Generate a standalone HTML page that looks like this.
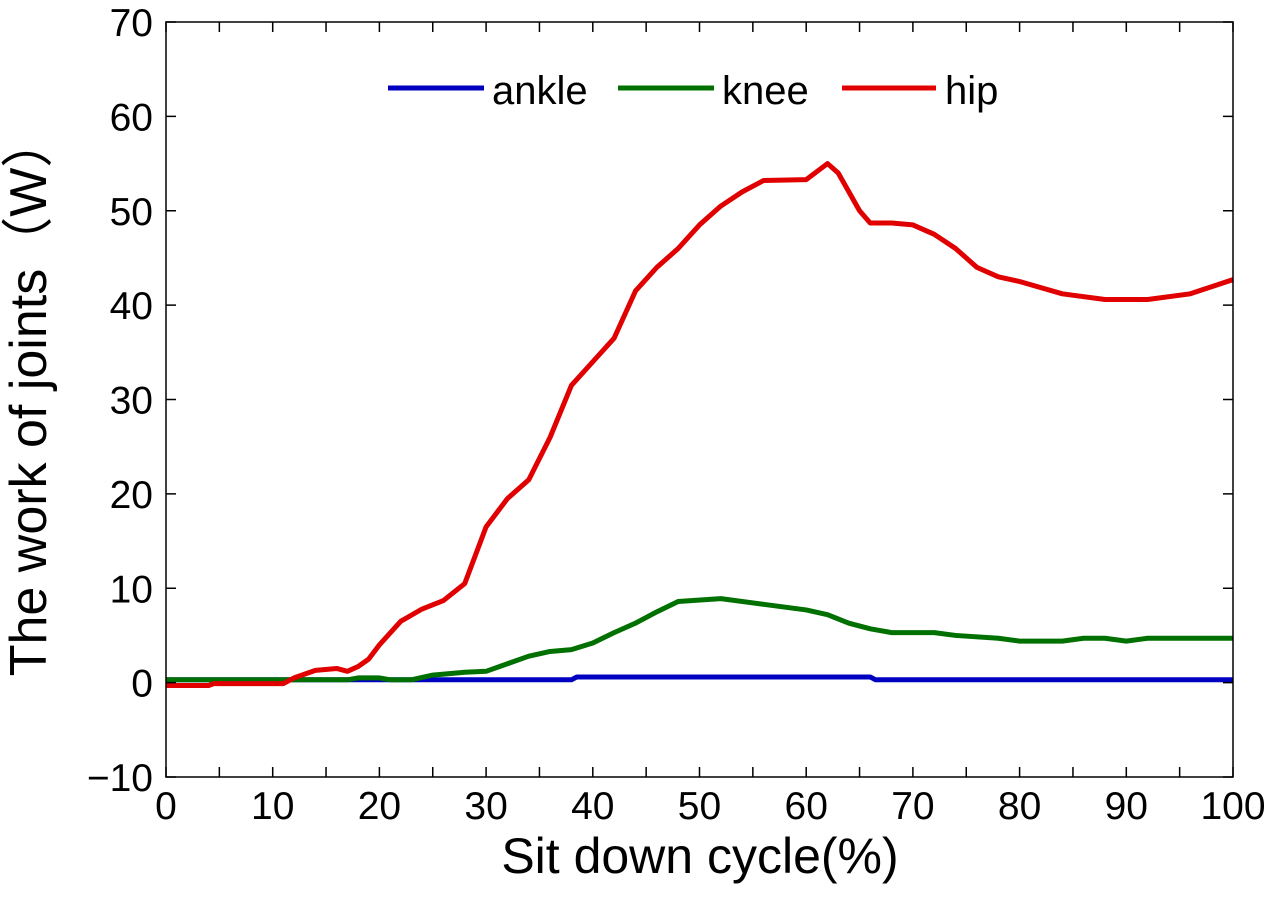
<!DOCTYPE html>
<html><head><meta charset="utf-8"><style>
body{margin:0;background:#fff;}
svg{display:block;font-family:"Liberation Sans","Noto Sans CJK SC",sans-serif;}
</style></head><body>
<svg id="chart" width="1275" height="914">
<rect x="0" y="0" width="1275" height="914" fill="#fff"/>
<g id="series"></g>
<rect x="166" y="22" width="1067" height="755" fill="none" stroke="#000" stroke-width="1.5"/>
<g id="axes"></g>
<text x="700" y="873" font-size="50" text-anchor="middle">Sit down cycle(%)</text>
<text transform="translate(46,396) rotate(-90)" font-size="52" text-anchor="middle">The work of joints（W）</text>
<g>
<g><line x1="388" y1="88" x2="484" y2="88" stroke="#0000c0" stroke-width="5"/><text x="492" y="104" font-size="40">ankle</text></g>
<g><line x1="618" y1="88" x2="714" y2="88" stroke="#007000" stroke-width="5"/><text x="722" y="104" font-size="40">knee</text></g>
<g><line x1="842" y1="88" x2="936" y2="88" stroke="#e00000" stroke-width="5"/><text x="945" y="104" font-size="40">hip</text></g>
</g>
</svg>
<script>
const hipX=[0,4,4.5,11,12,14,16,17,18,19,20,22,24,26,28,30,32,34,36,38,40,42,44,46,48,50,52,54,56,60,62,63,65,66,68,70,72,74,76,78,80,84,88,92,96,100];
const hipY=[-0.3,-0.3,-0.1,-0.1,0.5,1.3,1.5,1.2,1.7,2.5,4,6.5,7.8,8.7,10.5,16.5,19.5,21.5,26,31.5,34,36.5,41.5,44,46,48.5,50.5,52,53.2,53.3,55,54,50,48.7,48.7,48.5,47.5,46,44,43,42.5,41.2,40.6,40.6,41.2,42.7];
const kneeX=[0,17,18,20,21,23,25,28,30,32,34,36,38,40,42,44,46,48,52,56,60,62,64,66,68,72,74,78,80,84,86,88,90,92,100];
const kneeY=[0.3,0.3,0.5,0.5,0.3,0.3,0.8,1.1,1.2,2,2.8,3.3,3.5,4.2,5.3,6.3,7.5,8.6,8.9,8.3,7.7,7.2,6.3,5.7,5.3,5.3,5.0,4.7,4.4,4.4,4.7,4.7,4.4,4.7,4.7];
const ankleX=[0,38,38.5,66,66.5,100];
const ankleY=[0.3,0.3,0.6,0.6,0.3,0.3];
const xTicks=[0,10,20,30,40,50,60,70,80,90,100];
const yTicks=[-10,0,10,20,30,40,50,60,70];
const NS='http://www.w3.org/2000/svg';
const X=v=>166+(v-0)/100*1067;
const Y=v=>777-(v+10)/80*755;
const axes=document.getElementById('axes');
for(let v=0;v<=100;v+=5){
  const l=document.createElementNS(NS,'path');
  l.setAttribute('d',`M${X(v)},777v-10M${X(v)},22v10`);
  l.setAttribute('stroke','#000');l.setAttribute('stroke-width','1.5');
  
  
  axes.appendChild(l);
}
xTicks.forEach(v=>{
  const t=document.createElementNS(NS,'text');
  t.setAttribute('x',X(v));t.setAttribute('y',819);t.setAttribute('font-size','39');t.setAttribute('text-anchor','middle');
  t.textContent=v;
  
  
  axes.appendChild(t);
});
yTicks.forEach(v=>{
  const l=document.createElementNS(NS,'path');
  l.setAttribute('d',`M166,${Y(v)}h10M1233,${Y(v)}h-10`);
  l.setAttribute('stroke','#000');l.setAttribute('stroke-width','1.5');
  
  
  axes.appendChild(l);
  const t=document.createElementNS(NS,'text');
  t.setAttribute('x',153);t.setAttribute('y',Y(v)+14);t.setAttribute('font-size','39');t.setAttribute('text-anchor','end');
  t.textContent=v<0?'\u2212'+Math.abs(v):v;
  
  
  axes.appendChild(t);
});
const series=document.getElementById('series');
function draw(xs,ys,color,name){
  const p=document.createElementNS(NS,'polyline');
  p.setAttribute('points',xs.map((x,i)=>X(x)+','+Y(ys[i])).join(' '));
  p.setAttribute('fill','none');p.setAttribute('stroke',color);p.setAttribute('stroke-width','5');p.setAttribute('stroke-linejoin','round');
  
  
  series.appendChild(p);
}
draw(ankleX,ankleY,'#0000c0','ankle-line');
draw(kneeX,kneeY,'#007000','knee-line');
draw(hipX,hipY,'#e00000','hip-line');
</script>
</body></html>
